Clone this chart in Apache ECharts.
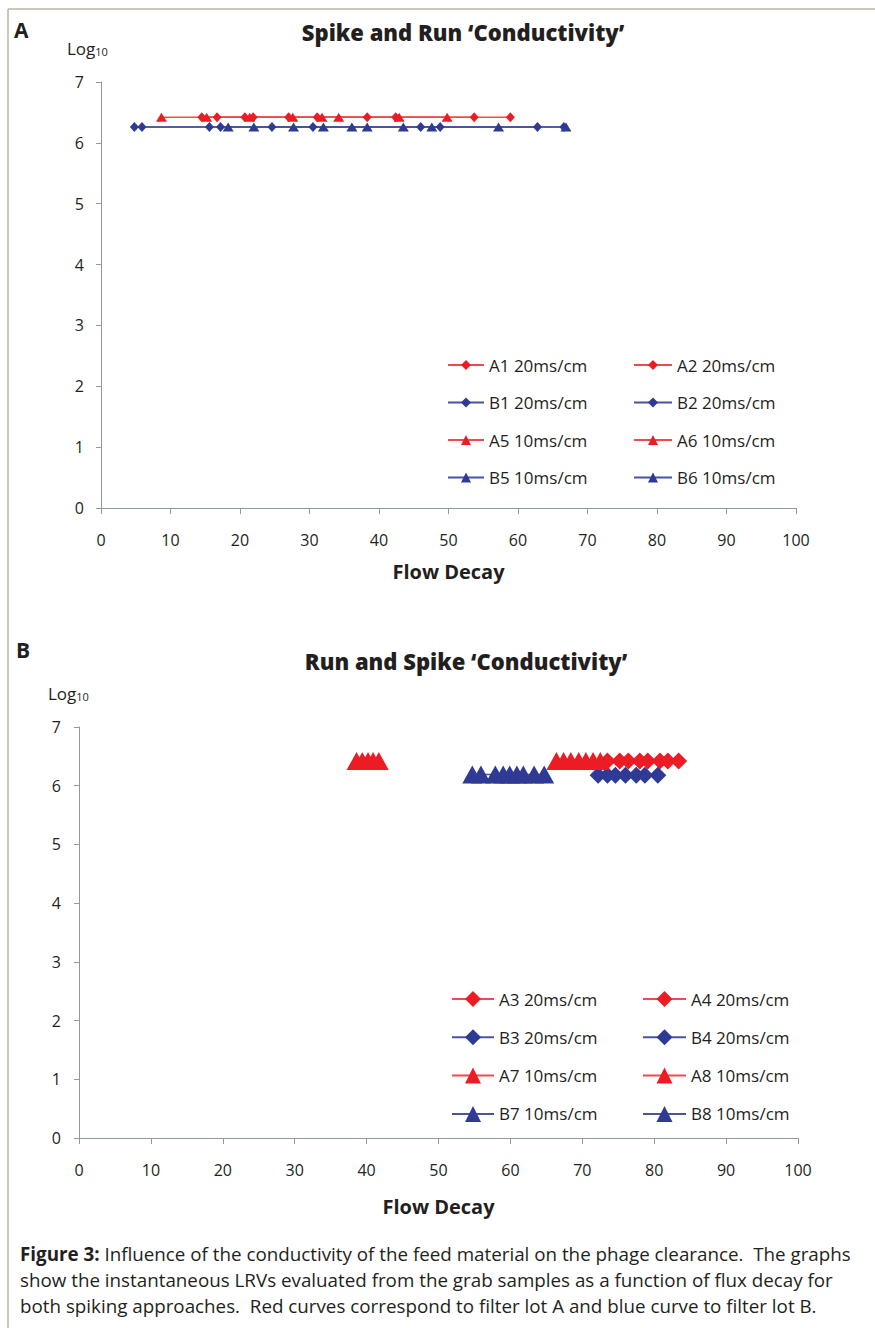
<!DOCTYPE html>
<html>
<head>
<meta charset="utf-8">
<script src="https://cdn.jsdelivr.net/npm/echarts@6/dist/echarts.min.js"></script>
<style>
  html, body { margin: 0; padding: 0; background: #fff; }
  #chart { width: 875px; height: 1328px; }
</style>
</head>
<body>
<div id="chart"></div>
<script>
// panel A: Spike and Run, [flow decay, log10 LRV]
const a1 = [[14.5, 6.42], [20.7, 6.42], [27.0, 6.42], [38.3, 6.42], [53.7, 6.42]];
const a2 = [[16.7, 6.42], [21.9, 6.42], [31.1, 6.42], [42.4, 6.42], [58.9, 6.42]];
const b1 = [[4.8, 6.26], [15.6, 6.26], [24.6, 6.26], [46.0, 6.26], [62.8, 6.26]];
const b2 = [[5.9, 6.26], [17.2, 6.26], [30.5, 6.26], [48.8, 6.26], [66.6, 6.26]];
const a5 = [[8.7, 6.42], [21.4, 6.42], [31.8, 6.42], [42.9, 6.42]];
const a6 = [[15.2, 6.42], [27.6, 6.42], [34.2, 6.42], [49.8, 6.42]];
const b5 = [[18.3, 6.26], [27.7, 6.26], [36.1, 6.26], [43.5, 6.26], [57.2, 6.26]];
const b6 = [[22.0, 6.26], [32.0, 6.26], [38.3, 6.26], [47.6, 6.26], [66.9, 6.26]];

// panel B: Run and Spike
const a3 = [[73.5, 6.42], [76.4, 6.42], [79.1, 6.42], [81.9, 6.42]];
const a4 = [[75.2, 6.42], [78.0, 6.42], [80.8, 6.42], [83.4, 6.42]];
const b3 = [[72.2, 6.18], [74.6, 6.18], [77.5, 6.18], [80.5, 6.18]];
const b4 = [[73.5, 6.18], [76.0, 6.18], [78.7, 6.18]];
const a7 = [[38.6, 6.42], [39.4, 6.42], [40.2, 6.42], [40.9, 6.42], [41.7, 6.42]];
const a8 = [[66.4, 6.42], [67.4, 6.42], [68.4, 6.42], [69.5, 6.42], [70.5, 6.42], [71.5, 6.42], [72.5, 6.42]];
const b7 = [[54.7, 6.19], [55.9, 6.19], [57.9, 6.19], [59.0, 6.19]];
const b8 = [[59.9, 6.19], [60.9, 6.19], [61.8, 6.19], [63.3, 6.19], [64.7, 6.19]];

const titleA = 'Spike and Run \u2018Conductivity\u2019';
const titleB = 'Run and Spike \u2018Conductivity\u2019';
const legendA = [['A1 20ms/cm', 'B1 20ms/cm', 'A5 10ms/cm', 'B5 10ms/cm'], ['A2 20ms/cm', 'B2 20ms/cm', 'A6 10ms/cm', 'B6 10ms/cm']];
const legendB = [['A3 20ms/cm', 'B3 20ms/cm', 'A7 10ms/cm', 'B7 10ms/cm'], ['A4 20ms/cm', 'B4 20ms/cm', 'A8 10ms/cm', 'B8 10ms/cm']];
const caption = [
  'Influence of the conductivity of the feed material on the phage clearance.  The graphs',
  'show the instantaneous LRVs evaluated from the grab samples as a function of flux decay for',
  'both spiking approaches.  Red curves correspond to filter lot A and blue curve to filter lot B.'
];

const FONT = '"Open Sans", "Noto Sans", sans-serif';
const CAP_FONT = '"Open Sans", sans-serif';
const INK = '#231f20';
const AXIS = '#8f9a9a';
const RED = '#ed1c24', RED_LINE = '#ef4a50';
const BLUE = '#2e3a94', BLUE_LINE = '#4953a0';

function mk(name, data, g, symbol, size, color, lineColor) {
  return {
    name: name, type: 'line', xAxisIndex: g, yAxisIndex: g,
    data: data, symbol: symbol, symbolSize: size, showSymbol: true,
    itemStyle: { color: color },
    lineStyle: { color: lineColor, width: 1.5 },
    emphasis: { disabled: true }
  };
}

function xAx(g, nameGap) {
  return {
    type: 'value', gridIndex: g, min: 0, max: 100, interval: 10,
    name: 'Flow Decay', nameLocation: 'middle', nameGap: nameGap,
    nameTextStyle: { fontSize: 20, fontWeight: 'bold', color: INK, fontFamily: FONT },
    axisLine: { lineStyle: { color: AXIS, width: 1 } },
    axisTick: { length: 6, lineStyle: { color: AXIS } },
    axisLabel: { fontSize: 16, color: INK, margin: 24, fontFamily: FONT },
    splitLine: { show: false }
  };
}

function yAx(g, margin) {
  return {
    type: 'value', gridIndex: g, min: 0, max: 7, interval: 1,
    axisLine: { show: true, lineStyle: { color: AXIS, width: 1 } },
    axisTick: { show: true, length: 5, lineStyle: { color: AXIS } },
    axisLabel: { fontSize: 16, color: INK, margin: margin, fontFamily: FONT },
    splitLine: { show: false }
  };
}

function leg(names, left, top, iw, ih, gap) {
  return {
    orient: 'vertical', left: left, top: top, data: names, padding: 0,
    itemWidth: iw, itemHeight: ih, itemGap: gap, itemTextGap: 7,
    selectedMode: false,
    textStyle: { fontSize: 17, color: INK, fontFamily: FONT, lineHeight: 20 }
  };
}

const chart = echarts.init(document.getElementById('chart'), null, { renderer: 'svg' });

const option = {
  animation: false,
  backgroundColor: '#fff',
  grid: [
    { left: 101, top: 82, width: 695, height: 426 },
    { left: 79, top: 727, width: 719, height: 411 }
  ],
  xAxis: [xAx(0, 53), xAx(1, 58)],
  yAxis: [yAx(0, 17), yAx(1, 18)],
  legend: [
    leg(legendA[0], 447, 355, 36, 12.5, 17.5),
    leg(legendA[1], 633, 355, 38, 12.5, 17.5),
    leg(legendB[0], 451, 989, 42, 20, 18.3),
    leg(legendB[1], 642, 989, 43, 20, 18.3)
  ],
  series: [
    mk('A1 20ms/cm', a1, 0, 'diamond', [9, 10], RED, RED_LINE),
    mk('A2 20ms/cm', a2, 0, 'diamond', [9, 10], RED, RED_LINE),
    mk('B1 20ms/cm', b1, 0, 'diamond', [9, 10], BLUE, BLUE_LINE),
    mk('B2 20ms/cm', b2, 0, 'diamond', [9, 10], BLUE, BLUE_LINE),
    mk('A5 10ms/cm', a5, 0, 'triangle', [11, 9], RED, RED_LINE),
    mk('A6 10ms/cm', a6, 0, 'triangle', [11, 9], RED, RED_LINE),
    mk('B5 10ms/cm', b5, 0, 'triangle', [11, 9], BLUE, BLUE_LINE),
    mk('B6 10ms/cm', b6, 0, 'triangle', [11, 9], BLUE, BLUE_LINE),
    mk('A3 20ms/cm', a3, 1, 'diamond', [17, 17], RED, RED_LINE),
    mk('A4 20ms/cm', a4, 1, 'diamond', [17, 17], RED, RED_LINE),
    mk('B3 20ms/cm', b3, 1, 'diamond', [17, 17], BLUE, BLUE_LINE),
    mk('B4 20ms/cm', b4, 1, 'diamond', [17, 17], BLUE, BLUE_LINE),
    mk('A7 10ms/cm', a7, 1, 'triangle', [20, 18], RED, RED_LINE),
    mk('A8 10ms/cm', a8, 1, 'triangle', [20, 18], RED, RED_LINE),
    mk('B7 10ms/cm', b7, 1, 'triangle', [20, 18], BLUE, BLUE_LINE),
    mk('B8 10ms/cm', b8, 1, 'triangle', [20, 18], BLUE, BLUE_LINE)
  ],
  graphic: [
    // frame
    { type: 'line', shape: { x1: 8, y1: 9, x2: 875, y2: 9 }, style: { stroke: '#bdb6a8', lineWidth: 1.5 } },
    { type: 'line', shape: { x1: 8, y1: 9, x2: 8, y2: 1328 }, style: { stroke: '#bdb6a8', lineWidth: 1.5 } },
    // panel letters
    { type: 'text', left: 14, top: 19, style: { text: 'A', font: 'bold 21px ' + FONT, fill: INK } },
    { type: 'text', left: 16, top: 639, style: { text: 'B', font: 'bold 21px ' + FONT, fill: INK } },
    // titles
    { type: 'text', x: 463, y: 32, style: { text: titleA, font: '800 22px ' + FONT, fill: INK, align: 'center', verticalAlign: 'middle' } },
    { type: 'text', x: 466, y: 661, style: { text: titleB, font: '800 22px ' + FONT, fill: INK, align: 'center', verticalAlign: 'middle' } },
    // y unit labels
    {
      type: 'text', x: 67, y: 38,
      style: {
        text: '{n|Log}{s|10}', fill: INK,
        rich: { n: { fontSize: 17, fontFamily: FONT, lineHeight: 20 }, s: { fontSize: 11, fontFamily: FONT, lineHeight: 20, padding: [7, 0, 0, 0] } }
      }
    },
    {
      type: 'text', x: 48, y: 683,
      style: {
        text: '{n|Log}{s|10}', fill: INK,
        rich: { n: { fontSize: 17, fontFamily: FONT, lineHeight: 20 }, s: { fontSize: 11, fontFamily: FONT, lineHeight: 20, padding: [7, 0, 0, 0] } }
      }
    },
    // caption
    {
      type: 'text', x: 20, y: 1244,
      style: {
        text: '{b|Figure 3:} ' + caption[0], fill: INK, font: '18.8px ' + CAP_FONT,
        rich: { b: { fontWeight: 'bold', fontSize: 18.8, fontFamily: CAP_FONT } }
      }
    },
    { type: 'text', x: 20, y: 1270, style: { text: caption[1], fill: INK, font: '18.8px ' + CAP_FONT } },
    { type: 'text', x: 20, y: 1296, style: { text: caption[2], fill: INK, font: '18.8px ' + CAP_FONT } }
  ]
};

chart.setOption(option);
</script>
</body>
</html>
